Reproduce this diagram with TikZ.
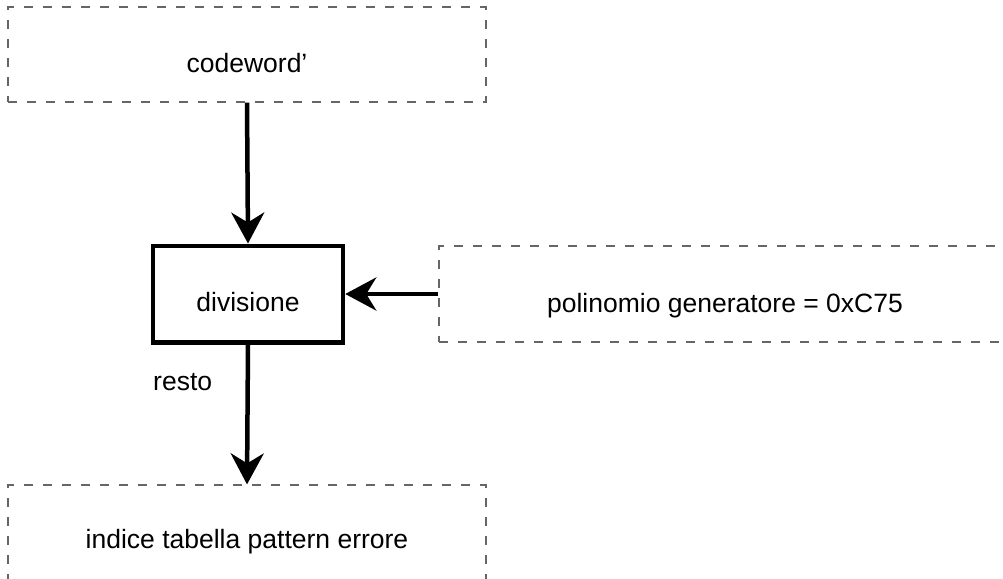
\documentclass[tikz,border=0pt]{standalone}
\usepackage{fontspec}
\setmainfont{Liberation Sans}
\usetikzlibrary{arrows.meta}

\tikzset{
  dbox/.style={draw=black!60, line width=1.2pt, dash pattern=on 9pt off 10pt,
               rectangle, inner sep=0pt},
  procbox/.style={draw=black, line width=4.5pt, rectangle, inner sep=0pt},
  lbl/.style={inner sep=0pt, font=\fontsize{26.5}{32}\selectfont},
  flow/.style={line width=4.5pt, -{Stealth[length=31pt, width=33pt, inset=10pt]}}
}

\begin{document}
\begin{tikzpicture}[x=1pt, y=-1pt]
  \clip (0,0) rectangle (1003,578);
  \fill[white] (0,0) rectangle (1003,578);

  % boxes
  \node[dbox, minimum width=478pt, minimum height=95pt] (cw) at (247,54.5) {};
  \node[procbox, minimum width=190pt, minimum height=96.5pt] (div) at (248,294) {};
  \node[dbox, minimum width=572pt, minimum height=96pt] (gen) at (725,294) {};
  \node[dbox, minimum width=478pt, minimum height=95pt] (idx) at (247,532.5) {};

  % texts
  \node[lbl, anchor=base] (cwt) at (247,72) {codeword’};
  \node[lbl, anchor=base] (divt) at (248,311) {divisione};
  \node[lbl, anchor=base] (gent) at (725,312) {polinomio generatore = 0xC75};
  \node[lbl, anchor=base] (idxt) at (247,548) {indice tabella pattern errore};
  \node[lbl, anchor=base west] (rest) at (153,390) {resto};

  % connectors
  \draw[flow] (cw.south) -- (div.north);
  \draw[flow] (gen.west) -- (div.east);
  \draw[flow] (div.south) -- (idx.north);
\end{tikzpicture}
\end{document}
